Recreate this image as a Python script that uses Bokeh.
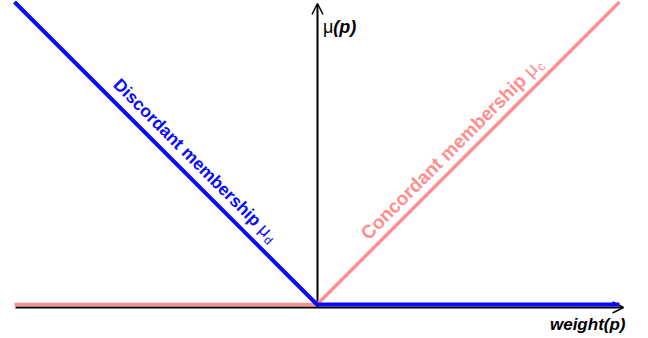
import numpy as np
from bokeh.plotting import figure
from bokeh.models import Arrow, OpenHead, Range1d
from bokeh.core.properties import value
from bokeh.embed import file_html
from bokeh.resources import INLINE

# ---- data ----
weight = [-1.0, 0.0, 1.0]
mu_discordant = [1.0, 0.0, 0.0]
mu_concordant = [0.0, 0.0, 1.0]
discordant_label = "Discordant membership "
concordant_label = "Concordant membership "
mu_symbol = "μ"
discordant_sub = "d"
concordant_sub = "c"
y_label_sym = "μ"
y_label_arg = "(p)"
x_label = "weight(p)"
discordant_label_at = -0.70   # weight where the label starts
concordant_label_at = 0.19

BLUE = "#0a0aff"
PINK = "#ff8f8f"
FONT = "Liberation Sans"

# ---- layout ----
W, H = 648, 338
SCALE = 302.5          # px per data unit, same on both axes
OX, OY = 316.5, 304    # origin in canvas px (from left, from top)

p = figure(width=W, height=H,
           x_range=Range1d(-OX / SCALE, (W - OX) / SCALE),
           y_range=Range1d(-(H - OY) / SCALE, OY / SCALE),
           output_backend="svg", toolbar_location=None,
           x_axis_type=None, y_axis_type=None, min_border=0)
p.grid.visible = False
p.outline_line_color = None
p.background_fill_color = "white"
p.border_fill_color = "white"

# Liberation Sans advance widths (per 1000 em)
ADV_REG = {"D": 722, "C": 722, "i": 222, "s": 500, "c": 500, "o": 556, "r": 333,
           "d": 556, "a": 556, "n": 556, "t": 278, " ": 278, "m": 833, "e": 556,
           "b": 556, "h": 556, "p": 556, "μ": 576}
ADV_BOLD = {"D": 722, "C": 722, "i": 278, "s": 556, "c": 556, "o": 611, "r": 389,
            "d": 611, "a": 556, "n": 611, "t": 333, " ": 278, "m": 889, "e": 556,
            "b": 611, "h": 611, "p": 611, "μ": 576}


def text_width(s, size, bold=False):
    adv = ADV_BOLD if bold else ADV_REG
    return sum(adv.get(ch, 556) for ch in s) * size / 1000.0


# ---- axes (arrows) ----
ax_y = -3 / SCALE
p.add_layout(Arrow(end=OpenHead(size=11, line_width=1.5, line_color="black"),
                   x_start=weight[0] + 1 / SCALE, y_start=ax_y,
                   x_end=weight[-1] + 4 / SCALE, y_end=ax_y,
                   line_width=2, line_color="black", level="underlay"))
p.add_layout(Arrow(end=OpenHead(size=11, line_width=1.5, line_color="black"),
                   x_start=0.5 / SCALE, y_start=ax_y,
                   x_end=0.5 / SCALE, y_end=max(mu_concordant) - 1.5 / SCALE,
                   line_width=2, line_color="black", level="underlay"))

# ---- membership lines ----
p.line(weight, mu_concordant, line_color=PINK, line_width=3.5)
p.line(weight, mu_discordant, line_color=BLUE, line_width=4)


# ---- labels along the lines ----
def place(x0, y0, d, s_px, t_px):
    d = np.array(d, dtype=float)
    d /= np.linalg.norm(d)
    n = np.array([-d[1], d[0]])
    pt = np.array([x0, y0]) + (d * s_px + n * t_px) / SCALE
    return pt[0], pt[1]


def line_label(x0, y0, d, angle, main, sub, color, size=18, sub_size=12, t=16):
    w_main = text_width(main, size, bold=True)
    w_mu = text_width(mu_symbol, size)
    for txt, s, tt, sz, st in [(main, 0, t, size, "bold"),
                               (mu_symbol, w_main, t, size, "normal"),
                               (sub, w_main + w_mu + 1, t - 5, sub_size, "normal")]:
        x, y = place(x0, y0, d, s, tt)
        p.text(x=[x], y=[y], text=[txt], angle=angle, text_color=color,
               text_font=value(FONT), text_font_size=f"{sz}px", text_font_style=st,
               text_align="left", text_baseline="alphabetic")


xd = discordant_label_at
yd = float(np.interp(xd, weight, mu_discordant))
line_label(xd, yd, (1, -1), -np.pi / 4, discordant_label, discordant_sub, BLUE,
           size=17.5)

xc = concordant_label_at
yc = float(np.interp(xc, weight, mu_concordant))
line_label(xc, yc, (1, 1), np.pi / 4, concordant_label, concordant_sub, PINK,
           size=19, sub_size=13, t=15)

# ---- axis labels ----
ly = 278 / SCALE
lx = 6 / SCALE
p.text(x=[lx], y=[ly], text=[y_label_sym], text_color="black",
       text_font=value(FONT), text_font_size="18px",
       text_align="left", text_baseline="alphabetic")
p.text(x=[lx + text_width(y_label_sym, 18) / SCALE], y=[ly], text=[y_label_arg],
       text_color="black", text_font=value(FONT), text_font_size="18px",
       text_font_style="bold italic", text_align="left", text_baseline="alphabetic")
p.text(x=[weight[-1] + 6 / SCALE], y=[-20 / SCALE], text=[x_label], text_color="black",
       text_font=value(FONT), text_font_size="17px", text_font_style="bold italic",
       text_align="right", text_baseline="alphabetic")

open("out.html", "w").write(file_html(p, INLINE))
